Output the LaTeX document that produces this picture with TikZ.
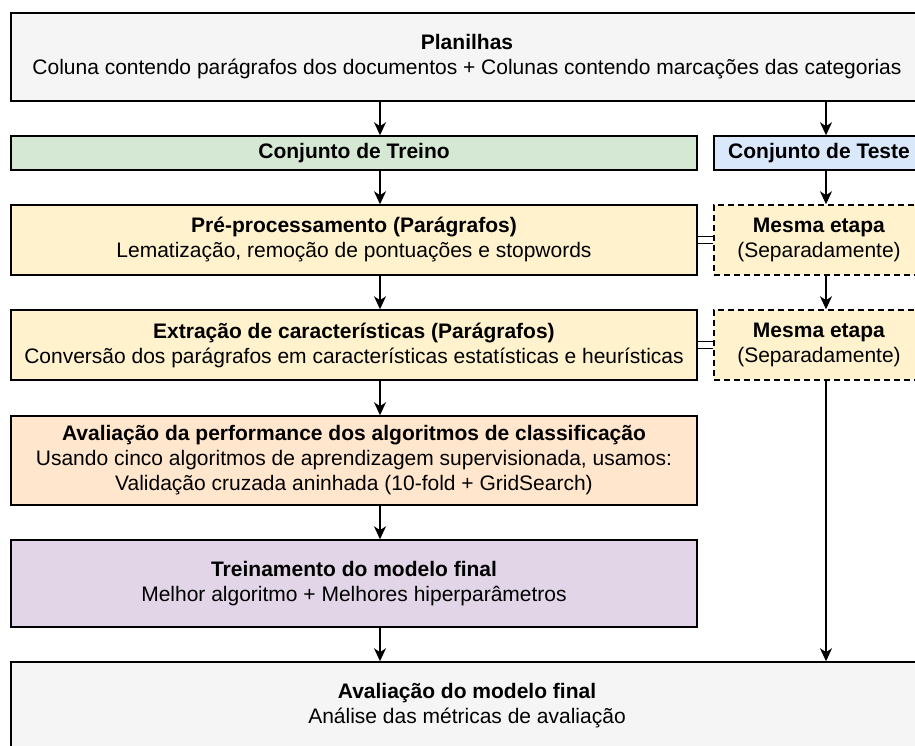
\documentclass[tikz,border=0pt]{standalone}
\usepackage{fontspec}
\setmainfont{Liberation Sans}
\usetikzlibrary{arrows.meta}

\definecolor{cinza}{HTML}{F5F5F5}
\definecolor{verde}{HTML}{D5E8D4}
\definecolor{azul}{HTML}{DAE8FC}
\definecolor{amarelo}{HTML}{FFF2CC}
\definecolor{laranja}{HTML}{FFE6CC}
\definecolor{roxo}{HTML}{E1D5E7}

\begin{document}
\begin{tikzpicture}[x=1pt, y=-1pt]
                \tikzset{Bloco/.style={draw, line width=1.5pt, align=center, inner sep=0pt,
                                       font=\fontsize{21}{25}\selectfont},
                         Seta/.style={line width=1.5pt, -{Stealth[length=13pt, width=12pt, inset=4pt]}},
                         Elo/.style={double, line width=1.6pt, double distance=5.5pt}}
                \useasboundingbox (0,0) rectangle (915,745);
                \clip (0,0) rectangle (915,745);
                \coordinate (colA) at (380,0);
                \coordinate (colB) at (826,0);
                \node[Bloco, fill=cinza, minimum width=912, minimum height=88] (plan) at (467,57)
                    {\textbf{Planilhas}\\Coluna contendo parágrafos dos documentos + Colunas contendo marcações das categorias};
                \node[Bloco, fill=verde, minimum width=686, minimum height=34] (treino) at (354,153)
                    {\textbf{Conjunto de Treino}};
                \node[Bloco, fill=azul, minimum width=210, minimum height=34] (teste) at (819,153)
                    {\textbf{Conjunto de Teste}};
                \node[Bloco, fill=amarelo, minimum width=686, minimum height=70] (pre) at (354,240)
                    {\textbf{Pré-processamento (Parágrafos)}\\Lematização, remoção de pontuações e stopwords};
                \node[Bloco, fill=amarelo, dash pattern=on 6pt off 4pt, minimum width=210, minimum height=70] (mesmaA) at (819,240)
                    {\textbf{Mesma etapa}\\(Separadamente)};
                \node[Bloco, fill=amarelo, minimum width=686, minimum height=70] (extr) at (354,345)
                    {\textbf{Extração de características (Parágrafos)}\\Conversão dos parágrafos em características estatísticas e heurísticas};
                \node[Bloco, fill=amarelo, dash pattern=on 6pt off 4pt, minimum width=210, minimum height=70] (mesmaB) at (819,345)
                    {\textbf{Mesma etapa}\\(Separadamente)};
                \node[Bloco, fill=laranja, minimum width=686, minimum height=89] (aval) at (354,460.5)
                    {\textbf{Avaliação da performance dos algoritmos de classificação}\\Usando cinco algoritmos de aprendizagem supervisionada, usamos:\\Validação cruzada aninhada (10-fold + GridSearch)};
                \node[Bloco, fill=roxo, minimum width=686, minimum height=87] (trein) at (354,583.5)
                    {\textbf{Treinamento do modelo final}\\Melhor algoritmo + Melhores hiperparâmetros};
                \node[Bloco, fill=cinza, minimum width=912, minimum height=88] (final) at (467,706)
                    {\textbf{Avaliação do modelo final}\\Análise das métricas de avaliação};
                \draw[Seta] (plan.south -| colA) -- (treino.north -| colA);
                \draw[Seta] (plan.south -| colB) -- (teste.north -| colB);
                \draw[Seta] (treino.south -| colA) -- (pre.north -| colA);
                \draw[Seta] (teste.south -| colB) -- (mesmaA.north -| colB);
                \draw[Seta] (pre.south -| colA) -- (extr.north -| colA);
                \draw[Seta] (mesmaA.south -| colB) -- (mesmaB.north -| colB);
                \draw[Seta] (extr.south -| colA) -- (aval.north -| colA);
                \draw[Seta] (aval.south -| colA) -- (trein.north -| colA);
                \draw[Seta] (trein.south -| colA) -- (final.north -| colA);
                \draw[Seta] (mesmaB.south -| colB) -- (final.north -| colB);
                \draw[Elo] (pre.east) -- (mesmaA.west);
                \draw[Elo] (extr.east) -- (mesmaB.west);
            \end{tikzpicture}
\end{document}
